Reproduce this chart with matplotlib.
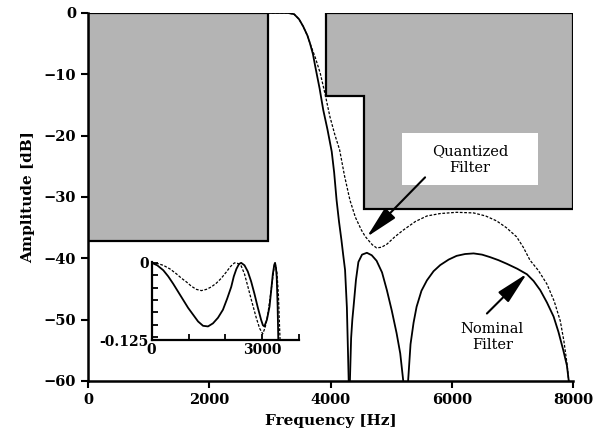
import numpy as np
import matplotlib
matplotlib.use('Agg')
import matplotlib.pyplot as plt
from matplotlib.patches import Rectangle, Polygon

plt.rcParams['font.family'] = ['DejaVu Serif']

# nominal filter response [Hz], [dB] (passband + transition, then two stopband lobes)
nom_f = [0, 1000, 2000, 3000, 3300, 3400, 3480, 3550, 3620, 3660, 3710, 3750, 3820, 3880,
         3950, 4020, 4060, 4100, 4140, 4180, 4210, 4240, 4270, 4300]
nom_db = [0, 0, 0, 0, 0, -0.2, -1.0, -2.2, -3.7, -4.9, -6.7, -8.8, -12.3, -15.8,
          -19.0, -22.6, -26.0, -30.5, -34.0, -37.0, -39.5, -41.9, -48.0, -60]
nom_f2 = [4320, 4340, 4360, 4380, 4420, 4460, 4520, 4600, 4680, 4760, 4850, 4930, 5010,
          5090, 5150, 5200]
nom_db2 = [-60, -53, -50, -47.9, -43.5, -40.6, -39.4, -39.1, -39.5, -40.4, -42.3, -45.2,
           -48.5, -52.2, -55.5, -60]
nom_f3 = [5280, 5320, 5370, 5420, 5500, 5590, 5700, 5810, 5950, 6080, 6220, 6360, 6500,
          6630, 6770, 6910, 7080, 7240, 7350, 7460, 7570, 7680, 7760, 7840, 7900, 7930]
nom_db3 = [-60, -54, -50.5, -47.9, -45.3, -43.6, -42.1, -41.1, -40.2, -39.6, -39.3, -39.2,
           -39.4, -39.8, -40.3, -40.9, -41.7, -42.6, -43.7, -45.2, -47.2, -49.5, -52.0,
           -55.0, -57.5, -60]

# quantized filter response
q_f = [0, 1000, 2000, 3000, 3300, 3400, 3480, 3550, 3620, 3660, 3750, 3830, 3910, 3990,
       4070, 4150, 4230, 4320, 4410, 4510, 4570, 4620, 4690, 4760, 4840, 4930, 5060, 5200,
       5400, 5590, 5810, 6080, 6360, 6560, 6740, 6900, 7070, 7180, 7290, 7430, 7570, 7690,
       7790, 7850, 7900, 7930]
q_db = [0, 0, 0, 0, 0, -0.2, -1.0, -2.2, -3.7, -4.9, -7.3, -9.8, -13.2, -16.9,
        -19.8, -22.3, -26.5, -30.5, -33.3, -35.4, -36.4, -37.0, -37.8, -38.3, -38.2, -37.7,
        -36.5, -35.4, -34.0, -33.1, -32.7, -32.5, -32.6, -33.1, -33.9, -35.0, -36.5, -38.2,
        -40.3, -42.0, -44.2, -47.0, -50.2, -53.5, -57.1, -60]

# passband detail for the inset
in_nom_f = [0, 150, 315, 450, 585, 720, 855, 990, 1125, 1260, 1395, 1530, 1665, 1800, 1935,
            2050, 2160, 2230, 2300, 2370, 2430, 2520, 2610, 2700, 2790, 2880, 2970, 3020,
            3060, 3130, 3200, 3250, 3290, 3330, 3350, 3375, 3395, 3420, 3440]
in_nom = [0, -0.004, -0.012, -0.022, -0.034, -0.047, -0.060, -0.073, -0.084, -0.095, -0.102,
          -0.103, -0.098, -0.089, -0.076, -0.058, -0.039, -0.022, -0.010, -0.002, 0, -0.004,
          -0.014, -0.030, -0.050, -0.072, -0.092, -0.101, -0.103, -0.092, -0.071, -0.042,
          -0.018, -0.003, 0, -0.008, -0.023, -0.07, -0.13]
in_q_f = [0, 150, 315, 500, 675, 810, 945, 1080, 1215, 1350, 1485, 1620, 1755, 1890, 2025,
          2140, 2250, 2340, 2430, 2520, 2610, 2720, 2835, 2930, 3015, 3080, 3150, 3220, 3290,
          3330, 3350, 3400, 3440, 3470, 3490]
in_q = [0, -0.001, -0.004, -0.010, -0.018, -0.025, -0.031, -0.038, -0.043, -0.045, -0.043,
        -0.039, -0.033, -0.025, -0.015, -0.006, 0, -0.001, -0.005, -0.018, -0.038, -0.063,
        -0.088, -0.106, -0.115, -0.105, -0.085, -0.055, -0.023, -0.005, 0, -0.015, -0.05,
        -0.10, -0.13]

fig = plt.figure(figsize=(6, 4.43), dpi=100)
ax = fig.add_axes([0.1467, 0.140, 0.8083, 0.8307])

grey = '#b4b4b4'
# passband mask
ax.add_patch(Rectangle((0, -37.2), 2975, 37.2, facecolor=grey, edgecolor='black', lw=1.6, zorder=1))
# stopband mask
ax.add_patch(Polygon([(3930, 0), (8000, 0), (8000, -31.9), (4560, -31.9), (4560, -13.6), (3930, -13.6)],
                     closed=True, facecolor=grey, edgecolor='black', lw=1.6, zorder=1))
ax.add_patch(Rectangle((5175, -28.1), 2250, 8.5, facecolor='white', edgecolor='none', zorder=1.5))

ax.plot(nom_f, nom_db, color='black', lw=1.3, zorder=3)
ax.plot(nom_f2, nom_db2, color='black', lw=1.3, zorder=3)
ax.plot(nom_f3, nom_db3, color='black', lw=1.3, zorder=3)
ax.plot(q_f, q_db, color='black', lw=0.9, dashes=(2.2, 1.3), zorder=3)

ax.set_xlim(0, 8000)
ax.set_ylim(-60, 0)
ax.set_xticks([0, 2000, 4000, 6000, 8000])
ax.set_yticks([0, -10, -20, -30, -40, -50, -60])
for s in ['top', 'right']:
    ax.spines[s].set_visible(False)
for s in ['left', 'bottom']:
    ax.spines[s].set_linewidth(1.8)
ax.tick_params(direction='out', length=5, width=1.5, labelsize=10.5)
for lab in ax.get_xticklabels() + ax.get_yticklabels():
    lab.set_fontweight('bold')
ax.set_xlabel('Frequency [Hz]', fontsize=11, fontweight='bold', labelpad=5)
ax.set_ylabel('Amplitude [dB]', fontsize=11, fontweight='bold', labelpad=6)

arrow = dict(arrowstyle='-|>,head_length=1.0,head_width=0.22', color='black', lw=1.5,
             mutation_scale=20, shrinkA=0, shrinkB=0)
ax.text(6300, -23.9, 'Quantized\nFilter', ha='center', va='center', fontsize=10.5, zorder=4)
ax.annotate('', xy=(4600, -36.5), xytext=(5560, -26.8), arrowprops=arrow, zorder=4)
ax.text(6670, -52.8, 'Nominal\nFilter', ha='center', va='center', fontsize=10.5, zorder=4)
ax.annotate('', xy=(7240, -42.5), xytext=(6580, -49.0), arrowprops=arrow, zorder=4)

# inset with passband ripple
axi = fig.add_axes([0.2528, 0.2325, 0.2455, 0.1756])
axi.plot(in_nom_f, in_nom, color='black', lw=1.3)
axi.plot(in_q_f, in_q, color='black', lw=0.9, dashes=(2.2, 1.3))
axi.set_xlim(0, 4000)
axi.set_ylim(-0.125, 0.001)
axi.patch.set_alpha(0)
for s in ['top', 'right']:
    axi.spines[s].set_visible(False)
for s in ['left', 'bottom']:
    axi.spines[s].set_linewidth(1.6)
axi.set_xticks([0, 3000])
axi.set_xticks([1000, 2000, 4000], minor=True)
axi.set_yticks([0, -0.125])
axi.set_yticklabels(['0', '-0.125'])
axi.set_yticks([-0.02, -0.04, -0.06, -0.08, -0.10, -0.12], minor=True)
axi.tick_params(which='both', direction='in', length=4, width=1.3, labelsize=10, pad=2)
for lab in axi.get_xticklabels() + axi.get_yticklabels():
    lab.set_fontweight('bold')

fig.savefig('out.png', dpi=100)
